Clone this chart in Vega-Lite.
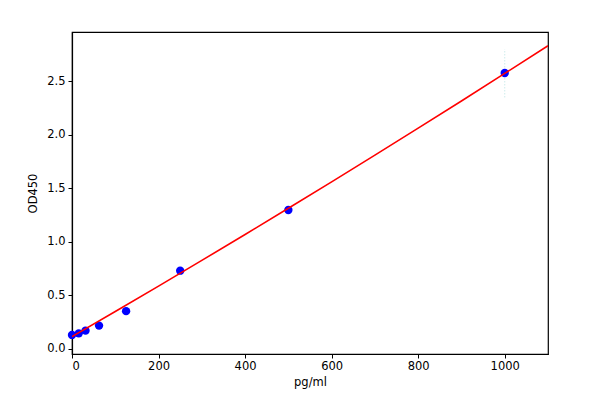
{
  "$schema": "https://vega.github.io/schema/vega-lite/v6.json",
  "width": 476,
  "height": 322,
  "autosize": {"type": "none"},
  "padding": {"left": 72, "top": 32, "right": 52, "bottom": 51},
  "background": "white",
  "config": {
    "font": "DejaVu Sans",
    "view": {"stroke": "black", "strokeWidth": 1.2},
    "axis": {
      "grid": false,
      "domainColor": "black",
      "domainWidth": 1.2,
      "tickColor": "black",
      "tickSize": 4,
      "labelFont": "DejaVu Sans",
      "labelFontSize": 11.5,
      "labelColor": "black",
      "titleFont": "DejaVu Sans",
      "titleFontSize": 11.5,
      "titleFontWeight": "normal",
      "titleColor": "black"
    }
  },
  "datasets": {
    "points": [
      {"conc": 0, "od": 0.131},
      {"conc": 15.6, "od": 0.146},
      {"conc": 31.25, "od": 0.171},
      {"conc": 62.5, "od": 0.218},
      {"conc": 125, "od": 0.353},
      {"conc": 250, "od": 0.731},
      {"conc": 500, "od": 1.298},
      {"conc": 1000, "od": 2.577}
    ],
    "fit": [
      {"conc": 0, "od": 0.115},
      {"conc": 100, "od": 0.350},
      {"conc": 200, "od": 0.587},
      {"conc": 300, "od": 0.827},
      {"conc": 400, "od": 1.069},
      {"conc": 500, "od": 1.314},
      {"conc": 600, "od": 1.561},
      {"conc": 700, "od": 1.810},
      {"conc": 800, "od": 2.062},
      {"conc": 900, "od": 2.316},
      {"conc": 1000, "od": 2.573},
      {"conc": 1100, "od": 2.832}
    ],
    "err": [
      {"conc": 1000, "lo": 2.35, "hi": 2.8}
    ]
  },
  "layer": [
    {
      "data": {"name": "err"},
      "mark": {"type": "rule", "color": "#a8dcdc", "strokeWidth": 1, "strokeDash": [1, 2], "opacity": 0.8},
      "encoding": {
        "x": {"field": "conc", "type": "quantitative"},
        "y": {"field": "lo", "type": "quantitative"},
        "y2": {"field": "hi"}
      }
    },
    {
      "data": {"name": "points"},
      "mark": {"type": "circle", "color": "#0000ff", "size": 70, "opacity": 1},
      "encoding": {
        "x": {
          "field": "conc", "type": "quantitative",
          "scale": {"domain": [0, 1100], "nice": false, "zero": false},
          "axis": {"title": "pg/ml", "values": [0, 200, 400, 600, 800, 1000], "format": "d", "labelPadding": 2, "titlePadding": 5}
        },
        "y": {
          "field": "od", "type": "quantitative",
          "scale": {"domain": [-0.047, 2.96], "nice": false, "zero": false},
          "axis": {"title": "OD450", "values": [0, 0.5, 1, 1.5, 2, 2.5], "format": ".1f", "labelPadding": 3, "titlePadding": 8}
        }
      }
    },
    {
      "data": {"name": "fit"},
      "mark": {"type": "line", "color": "#ff0000", "strokeWidth": 1.6, "clip": true},
      "encoding": {
        "x": {"field": "conc", "type": "quantitative"},
        "y": {"field": "od", "type": "quantitative"}
      }
    }
  ]
}
